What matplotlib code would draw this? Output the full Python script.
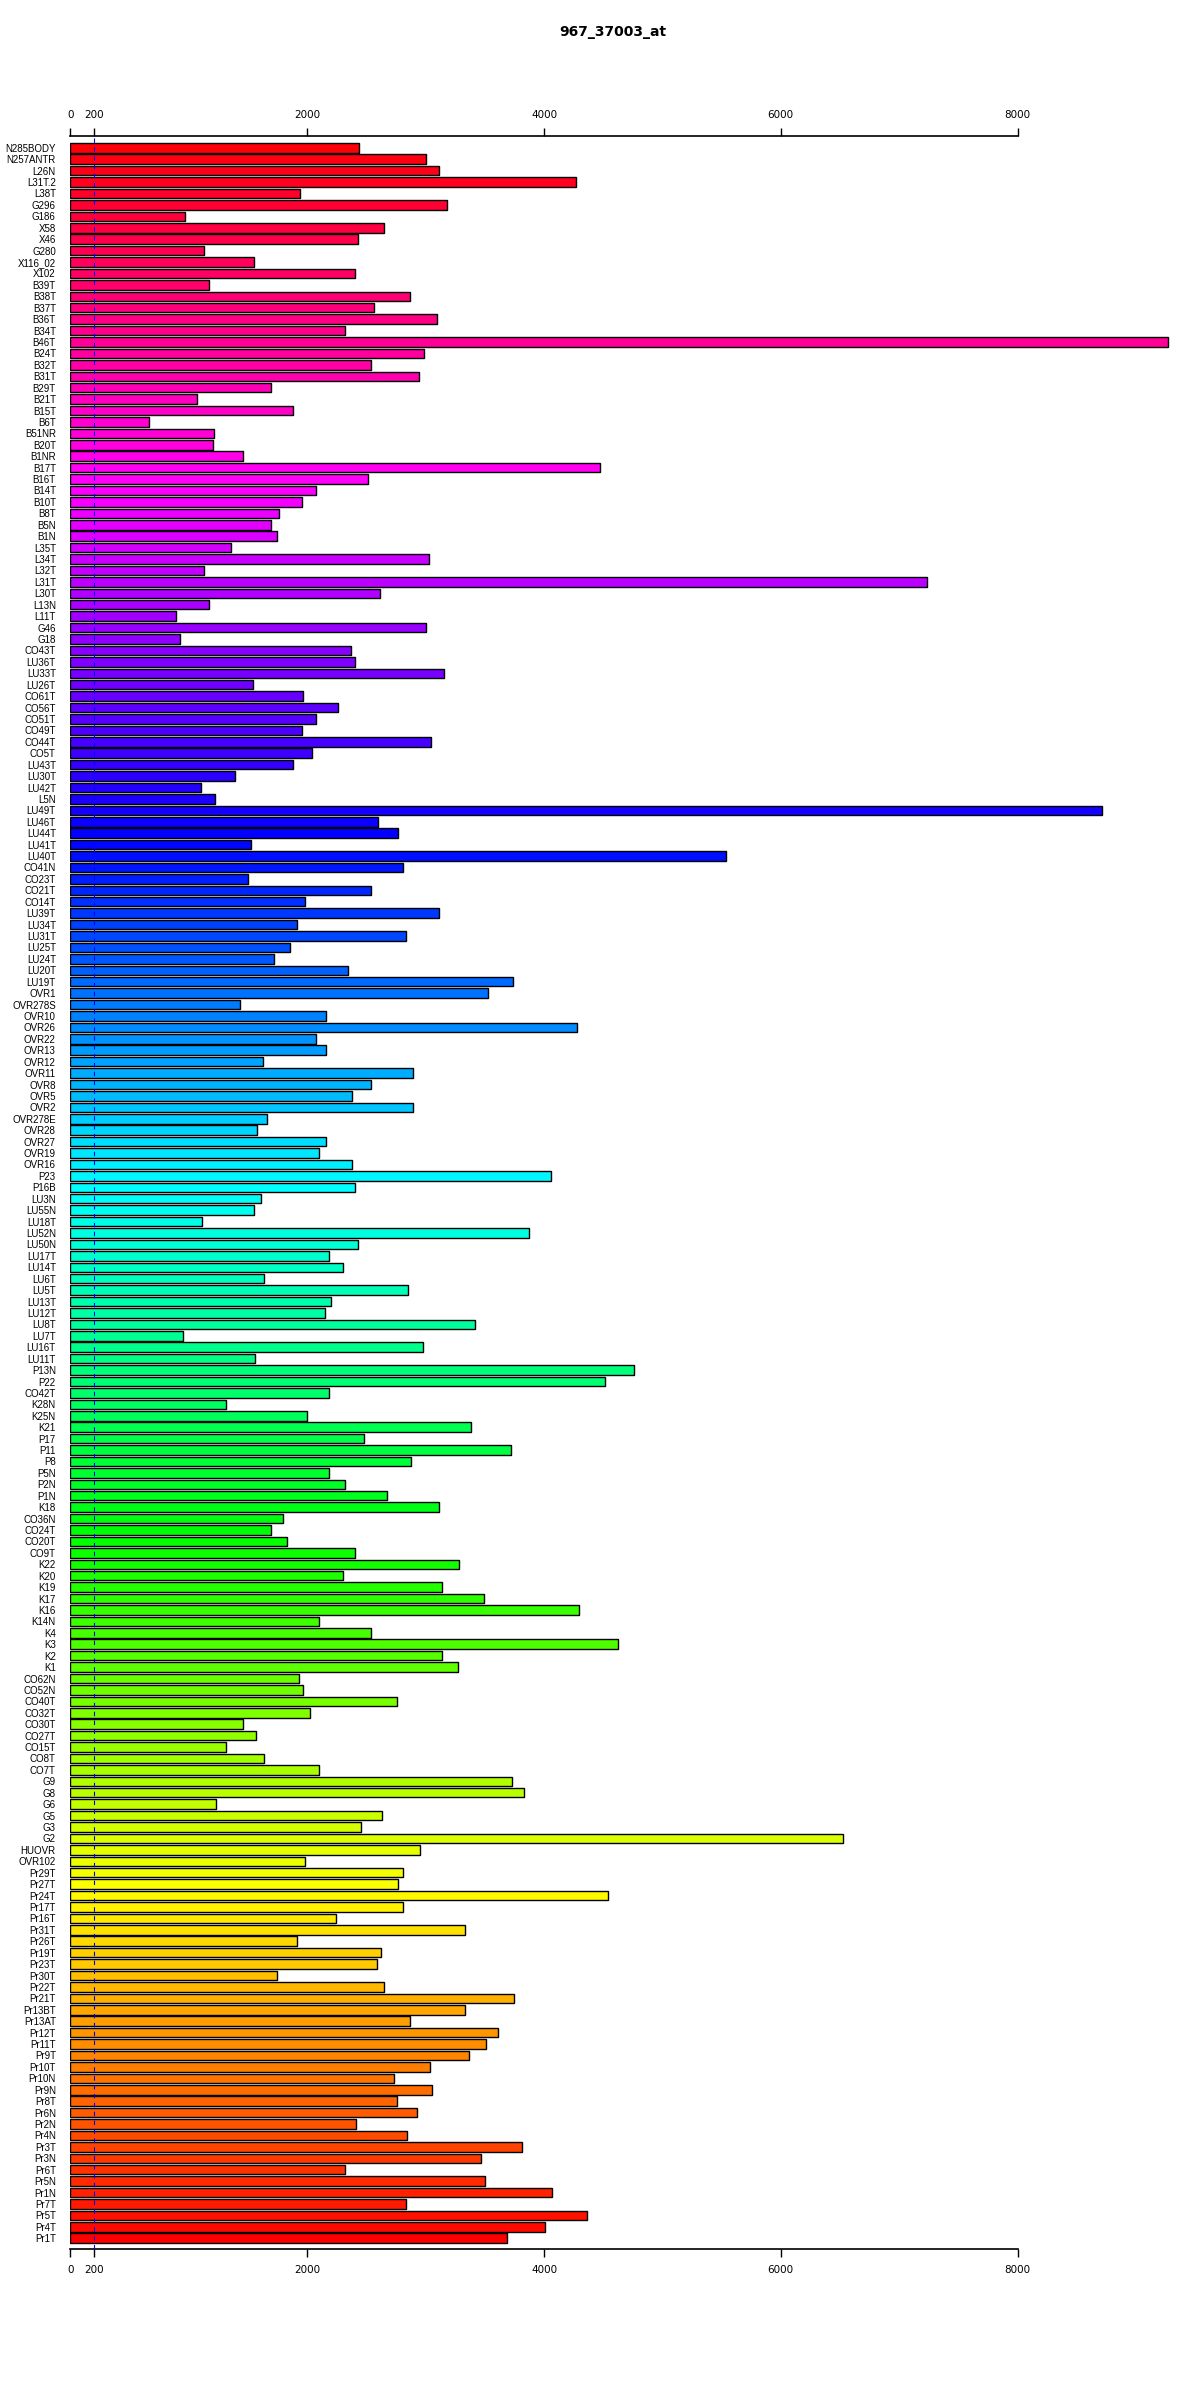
import matplotlib
matplotlib.use("Agg")
import matplotlib.pyplot as plt
import numpy as np
from matplotlib.colors import hsv_to_rgb

# sample names, top to bottom as they appear in the chart
labels = [
    "N285BODY", "N257ANTR", "L26N", "L31T.2", "L38T", "G296", "G186", "X58", "X46", "G280",
    "X116_02", "X102", "B39T", "B38T", "B37T", "B36T", "B34T", "B46T", "B24T", "B32T",
    "B31T", "B29T", "B21T", "B15T", "B6T", "B51NR", "B20T", "B1NR", "B17T", "B16T",
    "B14T", "B10T", "B8T", "B5N", "B1N", "L35T", "L34T", "L32T", "L31T", "L30T",
    "L13N", "L11T", "G46", "G18", "CO43T", "LU36T", "LU33T", "LU26T", "CO61T", "CO56T",
    "CO51T", "CO49T", "CO44T", "CO5T", "LU43T", "LU30T", "LU42T", "L5N", "LU49T", "LU46T",
    "LU44T", "LU41T", "LU40T", "CO41N", "CO23T", "CO21T", "CO14T", "LU39T", "LU34T", "LU31T",
    "LU25T", "LU24T", "LU20T", "LU19T", "OVR1", "OVR278S", "OVR10", "OVR26", "OVR22", "OVR13",
    "OVR12", "OVR11", "OVR8", "OVR5", "OVR2", "OVR278E", "OVR28", "OVR27", "OVR19", "OVR16",
    "P23", "P16B", "LU3N", "LU55N", "LU18T", "LU52N", "LU50N", "LU17T", "LU14T", "LU6T",
    "LU5T", "LU13T", "LU12T", "LU8T", "LU7T", "LU16T", "LU11T", "P13N", "P22", "CO42T",
    "K28N", "K25N", "K21", "P17", "P11", "P8", "P5N", "P2N", "P1N", "K18",
    "CO36N", "CO24T", "CO20T", "CO9T", "K22", "K20", "K19", "K17", "K16", "K14N",
    "K4", "K3", "K2", "K1", "CO62N", "CO52N", "CO40T", "CO32T", "CO30T", "CO27T",
    "CO15T", "CO8T", "CO7T", "G9", "G8", "G6", "G5", "G3", "G2", "HUOVR",
    "OVR102", "Pr29T", "Pr27T", "Pr24T", "Pr17T", "Pr16T", "Pr31T", "Pr26T", "Pr19T", "Pr23T",
    "Pr30T", "Pr22T", "Pr21T", "Pr13BT", "Pr13AT", "Pr12T", "Pr11T", "Pr9T", "Pr10T", "Pr10N",
    "Pr9N", "Pr8T", "Pr6N", "Pr2N", "Pr4N", "Pr3T", "Pr3N", "Pr6T", "Pr5N", "Pr1N",
    "Pr7T", "Pr5T", "Pr4T", "Pr1T",
]

# expression values, same order
values = [
    2439, 3006, 3116, 4271, 1942, 3181, 968, 2645, 2426, 1129,
    1548, 2406, 1168, 2871, 2561, 3097, 2323, 9271, 2987, 2542,
    2948, 1697, 1065, 1884, 665, 1213, 1200, 1458, 4471, 2510,
    2071, 1955, 1761, 1690, 1748, 1355, 3026, 1129, 7232, 2613,
    1168, 890, 3000, 923, 2368, 2406, 3155, 1542, 1968, 2258,
    2071, 1955, 3045, 2039, 1884, 1394, 1103, 1219, 8716, 2594,
    2768, 1529, 5535, 2813, 1503, 2542, 1981, 3116, 1910, 2832,
    1852, 1716, 2342, 3742, 3529, 1432, 2161, 4277, 2071, 2155,
    1626, 2890, 2535, 2374, 2897, 1658, 1574, 2155, 2097, 2374,
    4058, 2406, 1613, 1548, 1110, 3877, 2432, 2187, 2303, 1632,
    2852, 2200, 2148, 3419, 948, 2981, 1555, 4761, 4516, 2181,
    1310, 1994, 3387, 2477, 3723, 2877, 2181, 2316, 2671, 3116,
    1794, 1697, 1826, 2400, 3284, 2303, 3135, 3497, 4297, 2097,
    2542, 4626, 3135, 3277, 1929, 1968, 2761, 2026, 1458, 1568,
    1310, 1639, 2103, 3729, 3832, 1226, 2632, 2452, 6523, 2955,
    1981, 2813, 2768, 4542, 2806, 2245, 3335, 1910, 2619, 2587,
    1742, 2652, 3748, 3335, 2871, 3613, 3510, 3368, 3039, 2729,
    3058, 2761, 2929, 2413, 2845, 3813, 3471, 2316, 3503, 4071,
    2832, 4361, 4006, 3690,
]

xticks = [0, 200, 2000, 4000, 6000, 8000]
title = "967_37003_at"
cutoff = 200

# R barplot style: draw from the bottom up
plotLabels = labels[::-1]
plotValues = values[::-1]
n = len(plotValues)
pos = 0.2 + 1.2 * np.arange(n) + 0.5
colors = [hsv_to_rgb((i / n, 1.0, 1.0)) for i in range(n)]

fig = plt.figure(figsize=(12, 24), dpi=100)
ax = fig.add_axes([0.0587, 1 - 2249 / 2400, 0.9274, (2249 - 136) / 2400])

ax.barh(pos, plotValues, height=1.0, color=colors, edgecolor="black", linewidth=1.0, zorder=2)
ax.axvline(cutoff, color="blue", linestyle=(0, (4, 4)), linewidth=0.8, zorder=3)

ax.set_xlim(0, 9400)
ax.set_ylim(0.2 - 0.63, 0.2 + 1.2 * n - 0.2 + 0.74)

ax.set_yticks(pos)
ax.set_yticklabels(plotLabels, fontsize=7, family=["Liberation Sans Narrow", "Liberation Sans", "DejaVu Sans"])
ax.tick_params(axis="y", left=False, pad=7)

ax.set_xticks(xticks)
ax.set_xticklabels([str(t) for t in xticks], fontsize=7.5)
ax.tick_params(axis="x", top=True, labeltop=True, bottom=True, labelbottom=True,
               direction="out", length=5.5, width=1.0)
ax.tick_params(axis="x", which="major", pad=6)

for side in ["left", "right"]:
    ax.spines[side].set_visible(False)
for side in ["top", "bottom"]:
    ax.spines[side].set_bounds(0, 8000)
    ax.spines[side].set_linewidth(1.2)

fig.text(0.511, 1 - 32 / 2400, title, ha="center", va="center", fontsize=10, fontweight="bold")

fig.savefig("out.png", dpi=100)
